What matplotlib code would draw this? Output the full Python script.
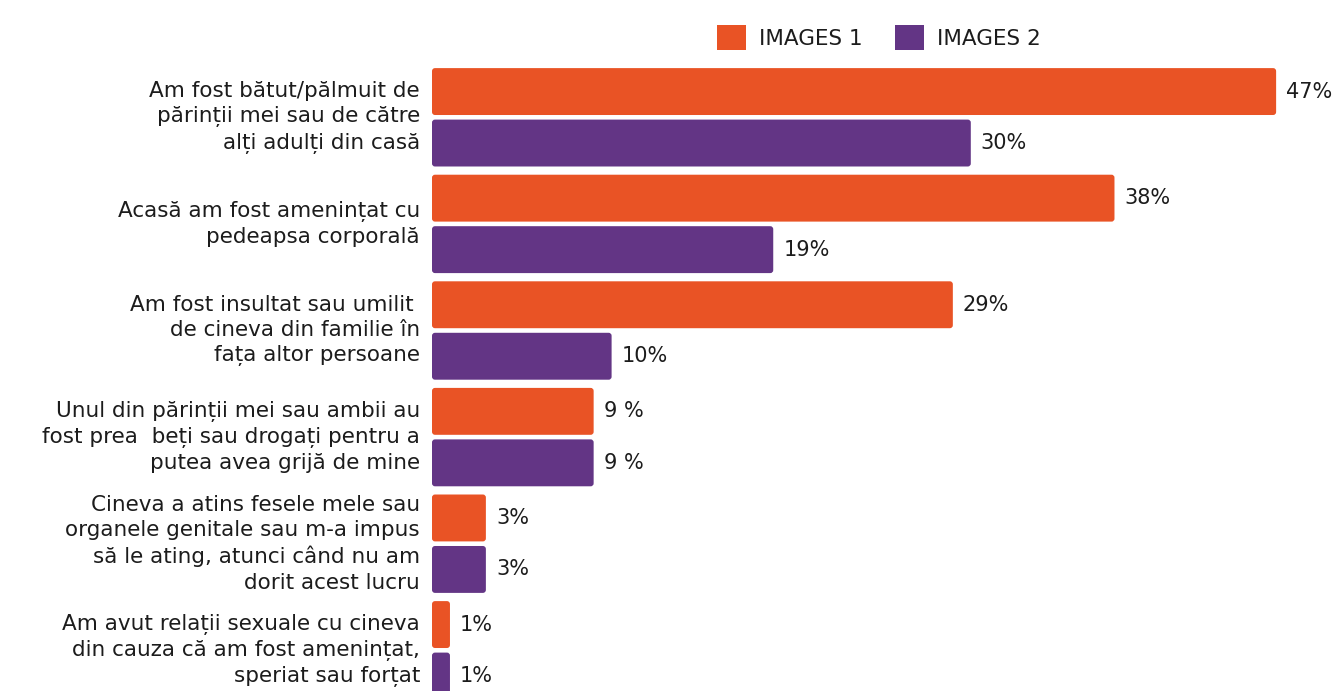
import matplotlib
matplotlib.use("Agg")
import matplotlib.pyplot as plt
from matplotlib.patches import FancyBboxPatch, Patch
import numpy as np

categories = [
    "Am fost bătut/pălmuit de\npărinții mei sau de către\nalți adulți din casă",
    "Acasă am fost amenințat cu\npedeapsa corporală",
    "Am fost insultat sau umilit \nde cineva din familie în\nfața altor persoane",
    "Unul din părinții mei sau ambii au\nfost prea  beți sau drogați pentru a\nputea avea grijă de mine",
    "Cineva a atins fesele mele sau\norganele genitale sau m-a impus\nsă le ating, atunci când nu am\ndorit acest lucru",
    "Am avut relații sexuale cu cineva\ndin cauza că am fost amenințat,\nsperiat sau forțat",
]
images1 = [47, 38, 29, 9, 3, 1]
images2 = [30, 19, 10, 9, 3, 1]
labels1 = ["47%", "38%", "29%", "9 %", "3%", "1%"]
labels2 = ["30%", "19%", "10%", "9 %", "3%", "1%"]
series_names = ["IMAGES 1", "IMAGES 2"]

ORANGE = "#E95325"
PURPLE = "#633585"
TEXT = "#1c1c1c"
FONT = "DejaVu Sans"

W, H = 1338, 691
fig = plt.figure(figsize=(W / 100, H / 100), dpi=100)
ax_left = 432 / W
ax = fig.add_axes([ax_left, 0, 1 - ax_left, 1])
px_per_unit_x = 17.96
ax.set_xlim(0, (W - 432) / px_per_unit_x)
group_px = 106.6
top_center = 117.3
ax.set_ylim((H - top_center) / group_px, -top_center / group_px)
ax.axis("off")

offset = 0.2415
bar_h = 0.44
r_x = 3 / px_per_unit_x
aspect = (3 / group_px) / r_x

y = np.arange(len(categories))
for series, labs, col, off in [(images1, labels1, ORANGE, -offset), (images2, labels2, PURPLE, offset)]:
    bars = ax.barh(y + off, series, height=bar_h, color=col)
    for b, v, lab in zip(bars, series, labs):
        x0, y0 = b.get_x(), b.get_y()
        w, h = b.get_width(), b.get_height()
        b.set_visible(False)
        p = FancyBboxPatch((x0, y0), w, h,
                           boxstyle=f"round,pad=0,rounding_size={r_x}",
                           mutation_aspect=aspect, fc=col, ec="none")
        ax.add_patch(p)
        ax.text(v + 10 / px_per_unit_x, y0 + h / 2, lab, ha="left", va="center",
                fontsize=15, color=TEXT, family=FONT, clip_on=False)

for yi, cat in zip(y, categories):
    ax.text(-12 / px_per_unit_x, yi, cat, ha="right", va="center", fontsize=15.5,
            color=TEXT, family=FONT, linespacing=1.33, clip_on=False)

handles = [Patch(facecolor=ORANGE, edgecolor="none"), Patch(facecolor=PURPLE, edgecolor="none")]
fig.legend(handles, series_names, loc="upper left", bbox_to_anchor=(698 / W, 1 - 6 / H),
           ncol=2, frameon=False, handlelength=1.35, handleheight=1.35,
           handletextpad=0.6, columnspacing=1.5, prop={"family": FONT, "size": 15.5},
           labelcolor=TEXT)

fig.savefig("out.png", dpi=100)
